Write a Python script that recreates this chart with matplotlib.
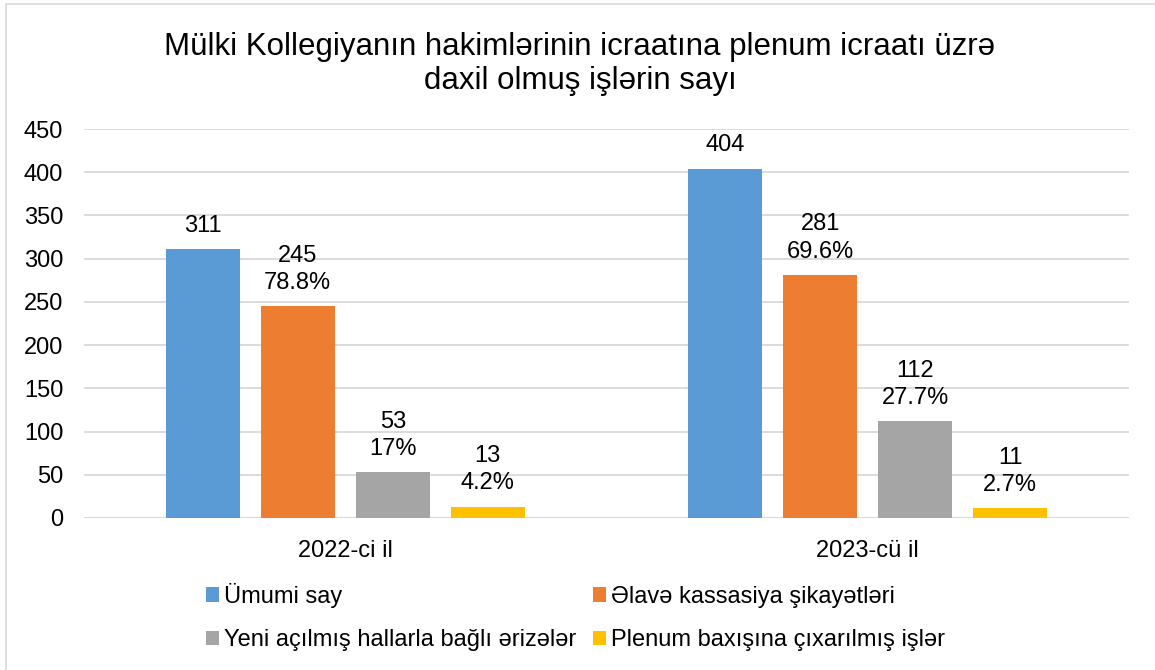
import matplotlib
matplotlib.use("Agg")
import matplotlib.pyplot as plt
import numpy as np
from matplotlib.patches import Rectangle

plt.rcParams['font.family'] = ['Liberation Sans', 'DejaVu Sans']

categories = ["2022-ci il", "2023-cü il"]
series_names = ["Ümumi say", "Əlavə kassasiya şikayətləri",
                "Yeni açılmış hallarla bağlı ərizələr", "Plenum baxışına çıxarılmış işlər"]
values = [
    [311, 404],
    [245, 281],
    [53, 112],
    [13, 11],
]
percents = [
    [None, None],
    ["78.8%", "69.6%"],
    ["17%", "27.7%"],
    ["4.2%", "2.7%"],
]
colors = ["#5B9BD5", "#ED7D31", "#A5A5A5", "#FFC000"]
title = "Mülki Kollegiyanın hakimlərinin icraatına plenum icraatı üzrə\ndaxil olmuş işlərin sayı"
yticks = [0, 50, 100, 150, 200, 250, 300, 350, 400, 450]

FS = 17
W, H = 1155, 670
fig = plt.figure(figsize=(W / 100, H / 100), dpi=100)
fig.patch.set_facecolor("white")

# chart frame
fig.patches.append(Rectangle((6 / W, -0.1), 1.2, 1 - 4 / H + 0.1, transform=fig.transFigure,
                             fill=False, edgecolor="#D9D9D9", linewidth=1.2))

ax = fig.add_axes([84 / W, 1 - 518 / H, (1129 - 84) / W, (518 - 129) / H])
x = np.arange(len(categories))
bw = 74 / 522.5
step = 95 / 522.5
bars = []
for i, (name, vals) in enumerate(zip(series_names, values)):
    off = (i - 1.5) * step
    b = ax.bar(x + off, vals, width=bw, color=colors[i], label=name, zorder=3)
    bars.append(b)
    for j, v in enumerate(vals):
        lab = str(v) if percents[i][j] is None else f"{v}\n{percents[i][j]}"
        ax.annotate(lab, (x[j] + off, v), xytext=(0, 9), textcoords="offset points",
                    ha="center", va="bottom", fontsize=FS, linespacing=1.3, color="#000000")

ax.set_xlim(-0.5, 1.5)
ax.set_ylim(0, 450)
ax.set_yticks(yticks)
ax.set_xticks(x)
ax.set_xticklabels(categories, fontsize=FS)
ax.tick_params(axis="y", labelsize=FS, length=0, pad=15)
ax.tick_params(axis="x", length=0, pad=16)
ax.grid(axis="y", color="#D9D9D9", linewidth=1.3, zorder=0)
for s in ax.spines.values():
    s.set_visible(False)
ax.axhline(0, color="#D9D9D9", linewidth=1.3, zorder=1)

fig.text(580 / W, 1 - 64 / H, title, ha="center", va="center", fontsize=22.5, linespacing=1.15)

order = [0, 2, 1, 3]
leg = fig.legend(handles=[bars[k] for k in order], labels=[series_names[k] for k in order],
                 loc="center left", bbox_to_anchor=(206 / W, 1 - 617 / H), ncol=2, frameon=False,
                 fontsize=FS, handlelength=0.55, handleheight=0.55, handletextpad=0.2,
                 columnspacing=0.72, labelspacing=0.9, borderaxespad=0, borderpad=0)

fig.savefig("out.png", dpi=100)
